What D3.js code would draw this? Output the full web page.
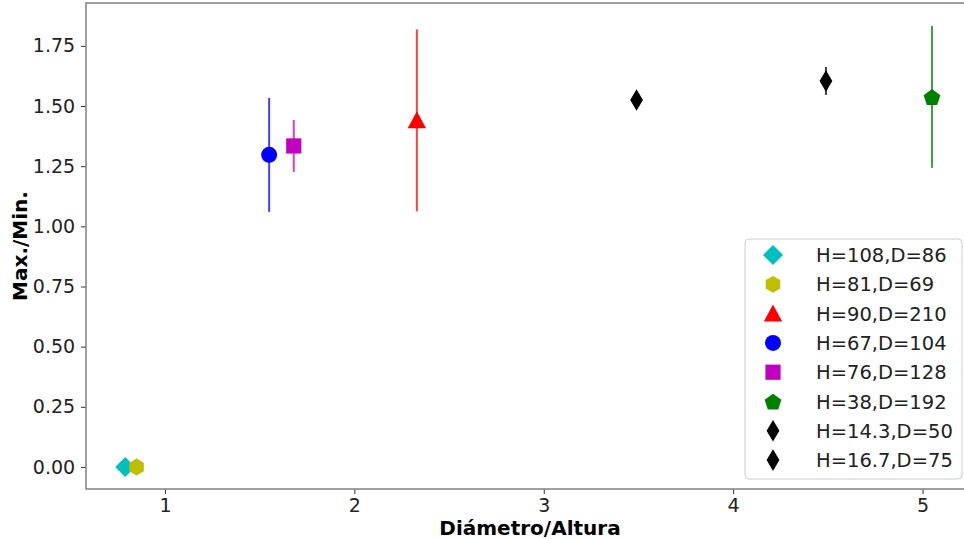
<!DOCTYPE html>
<html><head><meta charset="utf-8">
<script src="https://cdn.jsdelivr.net/npm/d3@7"></script>
<style>body{margin:0;background:#fff;} text{font-family:"DejaVu Sans",sans-serif;}</style>
</head><body>
<svg id="chart" width="964" height="539"></svg>
<script>
const labels = ["H=108,D=86","H=81,D=69","H=90,D=210","H=67,D=104","H=76,D=128","H=38,D=192","H=14.3,D=50","H=16.7,D=75"];
const xValues = [0.79, 0.85, 2.33, 1.55, 1.68, 5.05, 3.49, 4.49];
const yValues = [0.0, 0.0, 1.44, 1.297, 1.334, 1.538, 1.525, 1.604];
const yErrLow = [0, 0, 0.378, 0.237, 0.108, 0.295, 0, 0.058];
const yErrHigh = [0, 0, 0.378, 0.237, 0.108, 0.295, 0, 0.058];
const colors = ["#00bfbf","#bfbf00","#ff0000","#0000ff","#bf00bf","#008000","#000000","#000000"];
const shapes = ["D","h","^","o","s","p","d","d"];
const xTicks = [1,2,3,4,5];
const yTicks = [0,0.25,0.5,0.75,1.0,1.25,1.5,1.75];

const svg = d3.select("#chart");
const m = {left:86, top:3, right:968, bottom:489};
const x = d3.scaleLinear().domain([0.583, 5.24]).range([m.left, m.right]);
const y = d3.scaleLinear().domain([-0.0915, 1.928]).range([m.bottom, m.top]);

const xAxis = svg.append("g").attr("transform",`translate(0,${m.bottom})`)
  .call(d3.axisBottom(x).tickValues(xTicks).tickFormat(d3.format("d")).tickSize(5).tickSizeOuter(0));
const yAxis = svg.append("g").attr("transform",`translate(${m.left},0)`)
  .call(d3.axisLeft(y).tickValues(yTicks).tickFormat(d3.format(".2f")).tickSize(5).tickSizeOuter(0));
[xAxis,yAxis].forEach(a=>{
  a.select(".domain").remove();
  a.selectAll("line").attr("stroke","#333").attr("stroke-width",1);
  a.selectAll("text").attr("font-size",19).attr("fill","#222").attr("font-family","DejaVu Sans");
});
xAxis.selectAll("text").attr("dy","0.78em");
yAxis.selectAll("text").attr("dx","-0.15em");
svg.append("rect").attr("x",m.left).attr("y",m.top).attr("width",m.right-m.left).attr("height",m.bottom-m.top)
  .attr("fill","none").attr("stroke","#808080").attr("stroke-width",1.5);

svg.append("text").attr("x",530).attr("y",535).attr("text-anchor","middle")
  .attr("font-size",20).attr("font-weight","bold").text("Diámetro/Altura");
svg.append("text").attr("transform","translate(27,246) rotate(-90)").attr("text-anchor","middle")
  .attr("font-size",20).attr("font-weight","bold").text("Max./Min.");

function shapePath(s, r){
  const p=[];
  if(s==="D"){ return `M0,${-r*1.25}L${r*1.25},0L0,${r*1.25}L${-r*1.25},0Z`; }
  if(s==="d"){ return `M0,${-r*1.35}L${r*0.8},0L0,${r*1.35}L${-r*0.8},0Z`; }
  if(s==="s"){ const a=r*0.95; return `M${-a},${-a}H${a}V${a}H${-a}Z`; }
  if(s==="o"){ return d3.symbol(d3.symbolCircle, Math.PI*r*r)(); }
  if(s==="^"){ const a=r*1.15; return `M0,${-a}L${a},${a*0.85}L${-a},${a*0.85}Z`; }
  let n = s==="h"?6:5, rr = s==="h"?r*1.05:r*1.1;
  for(let i=0;i<n;i++){ const ang=-Math.PI/2+i*2*Math.PI/n; p.push([rr*Math.cos(ang), rr*Math.sin(ang)+(s==="p"?1:0)]); }
  return "M"+p.map(q=>q.join(",")).join("L")+"Z";
}

const g = svg.append("g");
labels.forEach((lab,i)=>{
  if(yErrLow[i]>0||yErrHigh[i]>0){
    g.append("line").attr("x1",x(xValues[i])).attr("x2",x(xValues[i]))
      .attr("y1",y(yValues[i]-yErrLow[i])).attr("y2",y(yValues[i]+yErrHigh[i]))
      .attr("stroke",colors[i]).attr("stroke-opacity",0.75).attr("stroke-width",2);
  }
});
labels.forEach((lab,i)=>{
  g.append("path").attr("d",shapePath(shapes[i],8))
    .attr("transform",`translate(${x(xValues[i])},${y(yValues[i])})`)
    .attr("fill",colors[i]);
});

const lg = svg.append("g");
lg.append("rect").attr("x",745).attr("y",239).attr("width",217).attr("height",240).attr("rx",4)
  .attr("fill","#fff").attr("fill-opacity",0.85).attr("stroke","#ccc").attr("stroke-width",1);
labels.forEach((lab,i)=>{
  const yy = 255 + i*29.3;
  lg.append("path").attr("d",shapePath(shapes[i],8)).attr("transform",`translate(773,${yy})`).attr("fill",colors[i]);
  lg.append("text").attr("x",816).attr("y",yy).attr("dy","0.36em").attr("font-size",19.5).attr("fill","#222").text(lab);
});
</script>
</body></html>
